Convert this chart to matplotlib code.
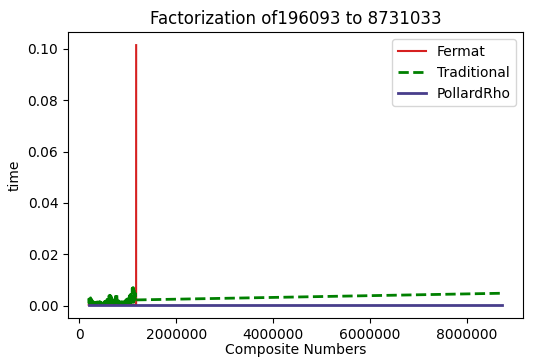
import matplotlib
matplotlib.use('Agg')
import matplotlib.pyplot as plt

# composite numbers tested: a dense block up to ~1.17M, then one far point
numbers = [196093,
           205000, 215000, 225000, 235000, 245000, 255000, 265000, 275000, 285000, 295000,
           305000, 315000, 325000, 335000, 345000, 355000, 365000, 375000, 385000, 395000,
           405000, 415000, 425000, 435000, 445000, 455000, 465000, 475000, 485000, 495000,
           505000, 515000, 525000, 535000, 545000, 555000, 565000, 575000, 585000, 595000,
           605000, 615000, 625000, 635000, 645000, 655000, 665000, 675000, 685000, 695000,
           705000, 715000, 725000, 735000, 745000, 755000, 765000, 775000, 785000, 795000,
           805000, 815000, 825000, 835000, 845000, 855000, 865000, 875000, 885000, 895000,
           905000, 915000, 925000, 935000, 945000, 955000, 965000, 975000, 985000, 995000,
           1005000, 1015000, 1025000, 1035000, 1045000, 1055000, 1065000, 1075000, 1085000,
           1095000, 1105000, 1115000, 1125000, 1135000, 1145000, 1155000, 1165000,
           1174000, 1175000, 8731033]

traditional = [0.0028,
               0.0009, 0.0033, 0.0010, 0.0030, 0.0009, 0.0024, 0.0008, 0.0018, 0.0008, 0.0015,
               0.0008, 0.0013, 0.0008, 0.0012, 0.0007, 0.0013, 0.0008, 0.0014, 0.0008, 0.0013,
               0.0008, 0.0015, 0.0008, 0.0014, 0.0007, 0.0012, 0.0008, 0.0013, 0.0008, 0.0015,
               0.0008, 0.0014, 0.0008, 0.0016, 0.0009, 0.0020, 0.0009, 0.0024, 0.0010, 0.0030,
               0.0010, 0.0038, 0.0011, 0.0040, 0.0010, 0.0037, 0.0010, 0.0028, 0.0009, 0.0020,
               0.0009, 0.0018, 0.0009, 0.0030, 0.0010, 0.0046, 0.0011, 0.0042, 0.0010, 0.0028,
               0.0009, 0.0018, 0.0008, 0.0015, 0.0008, 0.0014, 0.0008, 0.0015, 0.0008, 0.0013,
               0.0008, 0.0015, 0.0008, 0.0016, 0.0009, 0.0020, 0.0009, 0.0024, 0.0010, 0.0026,
               0.0010, 0.0030, 0.0011, 0.0038, 0.0012, 0.0042, 0.0012, 0.0050, 0.0013,
               0.0068, 0.0014, 0.0070, 0.0013, 0.0058, 0.0012, 0.0048, 0.0020,
               0.0022, 0.0022, 0.0048]

# Fermat stays near zero until its last run, which takes ~0.1 s
fermat = [0.0003] * 99 + [0.1015]

pollard = [0.0002] * 101

fig = plt.figure(figsize=(5.53, 3.61), dpi=100)
ax = fig.add_axes([0.123, 0.119, 0.823, 0.792])

ax.plot(numbers[:len(fermat)], fermat, color='#d62020', linewidth=1.5, label='Fermat')
ax.plot(numbers, traditional, color='green', linestyle='--', linewidth=2, label='Traditional')
ax.plot(numbers, pollard, color='darkslateblue', linewidth=2, label='PollardRho')

ax.set_title('Factorization of196093 to 8731033')
ax.set_xlabel('Composite Numbers', labelpad=1)
ax.set_ylabel('time')
ax.ticklabel_format(style='plain', axis='x')
ax.set_xticks([0, 2000000, 4000000, 6000000, 8000000])
ax.legend(loc='upper right')

fig.savefig('out.png', dpi=100)
